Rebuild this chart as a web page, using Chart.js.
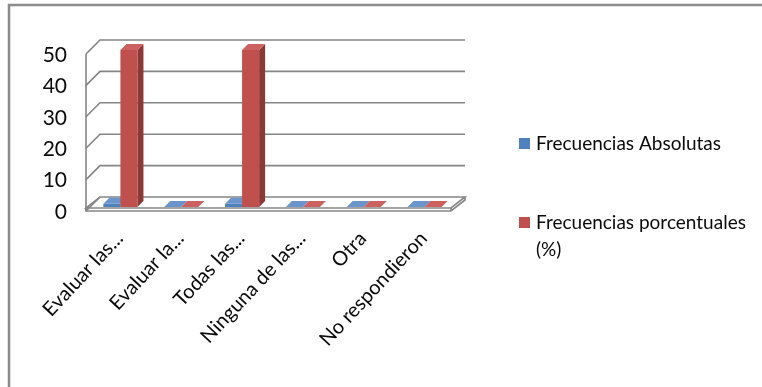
<!DOCTYPE html>
<html>
<head>
<meta charset="utf-8">
<script src="https://cdn.jsdelivr.net/npm/chart.js@4.4.1/dist/chart.umd.min.js"></script>
<style>
  html, body { margin: 0; padding: 0; background: #fff; }
  #wrap { width: 762px; height: 387px; position: relative; }
</style>
</head>
<body>
<div id="wrap"><canvas id="chart" width="762" height="387"></canvas></div>
<script>
// data
const categories = ['Evaluar las...', 'Evaluar la...', 'Todas las...', 'Ninguna de las...', 'Otra', 'No respondieron'];
const absolutas = [1, 0, 1, 0, 0, 0];
const porcentuales = [50, 0, 50, 0, 0, 0];
const yTicks = [0, 10, 20, 30, 40, 50];
const seriesNames = ['Frecuencias Absolutas', 'Frecuencias porcentuales (%)'];

const FONT = 'Lato, "Open Sans", sans-serif';
const TEXT = '#0a0a0a';
const GRID = '#858585';
const BACK = 10;   // depth of back wall behind the bar faces
const FRONT = 4;   // depth of the floor edge in front of the bar faces
const BAR_D = 6;   // depth of each bar

const colors = [
    { front: '#4F81BD', side: '#385D8A', top: '#6A95CC' },
    { front: '#C0504D', side: '#8C3836', top: '#CB625F' }
];

function wrapText(ctx, text, maxW) {
    const words = text.split(' ');
    const lines = [];
    let line = '';
    words.forEach((w) => {
        const test = line ? line + ' ' + w : w;
        if (ctx.measureText(test).width > maxW && line) {
            lines.push(line);
            line = w;
        } else {
            line = test;
        }
    });
    if (line) lines.push(line);
    return lines;
}

// walls, floor and bar sides (drawn before the bar fronts)
const box3d = {
    id: 'box3d',
    beforeDatasetsDraw(chart) {
        const ctx = chart.ctx;
        const ys = chart.scales.y;
        const L = chart.chartArea.left;
        const R = chart.chartArea.right;
        const y0 = ys.getPixelForValue(0);
        const yTop = ys.getPixelForValue(yTicks[yTicks.length - 1]);

        ctx.save();
        ctx.strokeStyle = GRID;
        ctx.lineWidth = 1.6;

        // floor
        ctx.beginPath();
        ctx.moveTo(L - FRONT, y0 + 1);
        ctx.lineTo(R - FRONT, y0 + 1);
        ctx.lineTo(R + BACK, y0 - BACK);
        ctx.lineTo(L + BACK, y0 - BACK);
        ctx.closePath();
        ctx.stroke();
        ctx.beginPath();
        ctx.moveTo(L - FRONT, y0 + 1);
        ctx.lineTo(L - FRONT, y0 + FRONT);
        ctx.lineTo(R - FRONT, y0 + FRONT);
        ctx.lineTo(R + BACK, y0 - BACK + 3);
        ctx.lineTo(R + BACK, y0 - BACK);
        ctx.moveTo(R - FRONT, y0 + FRONT);
        ctx.lineTo(R - FRONT, y0 + 1);
        ctx.stroke();

        // back wall grid and left wall
        yTicks.forEach((v) => {
            const py = ys.getPixelForValue(v);
            ctx.beginPath();
            ctx.moveTo(L - FRONT, py + FRONT);
            ctx.lineTo(L + BACK, py - BACK);
            if (v !== 0) ctx.lineTo(R + BACK, py - BACK);
            ctx.stroke();
        });
        ctx.beginPath();
        ctx.moveTo(L - FRONT, yTop + FRONT);
        ctx.lineTo(L - FRONT, y0 + FRONT);
        ctx.stroke();

        // bar sides and tops
        chart.data.datasets.forEach((ds, i) => {
            const c = colors[i];
            chart.getDatasetMeta(i).data.forEach((bar) => {
                const left = bar.x - bar.width / 2;
                const right = bar.x + bar.width / 2;
                const top = bar.y;
                const base = bar.base;
                ctx.fillStyle = c.side;
                ctx.beginPath();
                ctx.moveTo(right, top);
                ctx.lineTo(right + BAR_D, top - BAR_D);
                ctx.lineTo(right + BAR_D, base - BAR_D);
                ctx.lineTo(right, base);
                ctx.closePath();
                ctx.fill();
                ctx.fillStyle = c.top;
                ctx.beginPath();
                ctx.moveTo(left, top);
                ctx.lineTo(left + BAR_D, top - BAR_D);
                ctx.lineTo(right + BAR_D, top - BAR_D);
                ctx.lineTo(right, top);
                ctx.closePath();
                ctx.fill();
            });
        });
        ctx.restore();
    },
    afterDraw(chart) {
        const ctx = chart.ctx;
        const ys = chart.scales.y;
        const xs = chart.scales.x;
        const L = chart.chartArea.left;
        const y0 = ys.getPixelForValue(0);

        ctx.save();
        ctx.fillStyle = TEXT;

        // y tick labels
        ctx.font = '21px ' + FONT;
        ctx.textAlign = 'right';
        ctx.textBaseline = 'middle';
        yTicks.forEach((v) => {
            ctx.fillText(String(v), L - 23, ys.getPixelForValue(v) + FRONT + 1);
        });

        // rotated category labels
        ctx.font = '20px ' + FONT;
        categories.forEach((cat, i) => {
            const px = xs.getPixelForValue(i);
            ctx.save();
            ctx.translate(px - 1, y0 + 28);
            ctx.rotate(-47 * Math.PI / 180);
            ctx.textAlign = 'right';
            ctx.textBaseline = 'middle';
            ctx.fillText(cat, 0, 0);
            ctx.restore();
        });

        // legend
        ctx.font = '19px ' + FONT;
        ctx.textAlign = 'left';
        ctx.textBaseline = 'middle';
        const legendY = [144, 223];
        seriesNames.forEach((name, i) => {
            ctx.fillStyle = colors[i].front;
            ctx.fillRect(519, legendY[i] - 6, 11, 11);
            ctx.fillStyle = TEXT;
            wrapText(ctx, name, 228).forEach((line, k) => {
                ctx.fillText(line, 536, legendY[i] + k * 27);
            });
        });

        // outer frame
        ctx.strokeStyle = '#8c8c8c';
        ctx.lineWidth = 2.5;
        ctx.beginPath();
        ctx.moveTo(9, 387);
        ctx.lineTo(9, 5);
        ctx.lineTo(762, 5);
        ctx.stroke();
        ctx.restore();
    }
};

new Chart(document.getElementById('chart'), {
    type: 'bar',
    data: {
        labels: categories,
        datasets: [
            { label: seriesNames[0], data: absolutas, backgroundColor: colors[0].front },
            { label: seriesNames[1], data: porcentuales, backgroundColor: colors[1].front }
        ]
    },
    options: {
        responsive: false,
        animation: false,
        layout: { padding: { left: 90, right: 307, top: 50, bottom: 180 } },
        categoryPercentage: 0.56,
        barPercentage: 1,
        plugins: {
            legend: { display: false },
            tooltip: { enabled: false }
        },
        scales: {
            x: { display: false },
            y: { display: false, min: 0, max: 50, ticks: { stepSize: 10 } }
        }
    },
    plugins: [box3d]
});
</script>
</body>
</html>
